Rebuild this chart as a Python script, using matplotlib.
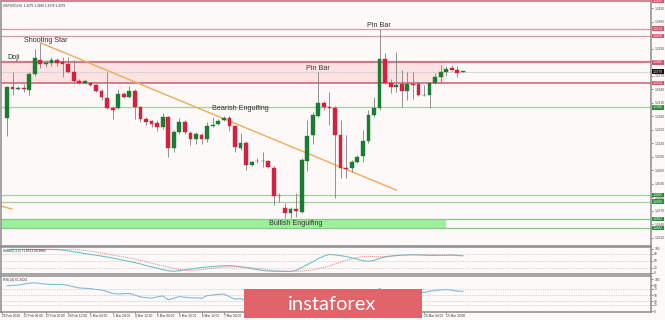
import matplotlib
matplotlib.use("Agg")
import matplotlib.pyplot as plt
from matplotlib.patches import Rectangle
from matplotlib.transforms import blended_transform_factory
import numpy as np

# ---------------- data: GBPUSD H4 ----------------
opens = [1.3176, 1.3245, 1.3240, 1.3242, 1.3238, 1.3274, 1.3305, 1.3296, 1.3298, 1.3305,
         1.3300, 1.3296, 1.3278, 1.3258, 1.3254, 1.3254, 1.3249, 1.3236, 1.3220, 1.3198,
         1.3198, 1.3229, 1.3223, 1.3236, 1.3200, 1.3174, 1.3169, 1.3165, 1.3156, 1.3178,
         1.3109, 1.3145, 1.3167, 1.3143, 1.3129, 1.3138, 1.3129, 1.3158, 1.3163, 1.3172,
         1.3176, 1.3158, 1.3109, 1.3121, 1.3072, 1.3081, 1.3080, 1.3081, 1.3065, 1.3003,
         1.2976, 1.2965, 1.2974, 1.2967, 1.3081, 1.3138, 1.3180, 1.3209, 1.3200, 1.3198,
         1.3138, 1.3065, 1.3065, 1.3078, 1.3092, 1.3125, 1.3183, 1.3198, 1.3307, 1.3254,
         1.3245, 1.3251, 1.3236, 1.3251, 1.3251, 1.3227, 1.3227, 1.3254, 1.3267, 1.3278,
         1.3287, 1.3283, 1.3279]
highs = [1.3247, 1.3278, 1.3247, 1.3251, 1.3278, 1.3329, 1.3343, 1.3305, 1.3311, 1.3309,
         1.3311, 1.3311, 1.3305, 1.3263, 1.3260, 1.3256, 1.3251, 1.3240, 1.3278, 1.3203,
         1.3240, 1.3234, 1.3247, 1.3240, 1.3203, 1.3178, 1.3172, 1.3172, 1.3187, 1.3180,
         1.3149, 1.3176, 1.3172, 1.3147, 1.3145, 1.3143, 1.3167, 1.3178, 1.3174, 1.3180,
         1.3180, 1.3160, 1.3143, 1.3125, 1.3081, 1.3087, 1.3101, 1.3083, 1.3070, 1.3010,
         1.2987, 1.2978, 1.3010, 1.3087, 1.3172, 1.3189, 1.3278, 1.3214, 1.3234, 1.3203,
         1.3172, 1.3138, 1.3083, 1.3094, 1.3149, 1.3194, 1.3223, 1.3374, 1.3320, 1.3263,
         1.3323, 1.3283, 1.3278, 1.3278, 1.3256, 1.3249, 1.3256, 1.3276, 1.3294, 1.3291,
         1.3294, 1.3291, 1.3280]
lows = [1.3136, 1.3227, 1.3238, 1.3234, 1.3227, 1.3269, 1.3287, 1.3289, 1.3291, 1.3291,
        1.3267, 1.3276, 1.3254, 1.3251, 1.3251, 1.3247, 1.3234, 1.3216, 1.3196, 1.3174,
        1.3196, 1.3220, 1.3220, 1.3174, 1.3167, 1.3160, 1.3156, 1.3147, 1.3152, 1.3090,
        1.3101, 1.3141, 1.3141, 1.3116, 1.3118, 1.3118, 1.3123, 1.3156, 1.3160, 1.3169,
        1.3147, 1.3101, 1.3105, 1.3061, 1.3070, 1.3076, 1.3067, 1.3065, 1.2983, 1.2990,
        1.2954, 1.2954, 1.2956, 1.2965, 1.3058, 1.3118, 1.3178, 1.3194, 1.3160, 1.2998,
        1.3043, 1.3043, 1.3056, 1.3076, 1.3078, 1.3121, 1.3178, 1.3194, 1.3251, 1.3232,
        1.3234, 1.3200, 1.3216, 1.3218, 1.3225, 1.3225, 1.3198, 1.3251, 1.3256, 1.3269,
        1.3280, 1.3267, 1.3278]
closes = [1.3245, 1.3240, 1.3243, 1.3240, 1.3274, 1.3309, 1.3296, 1.3298, 1.3305, 1.3298,
          1.3296, 1.3278, 1.3258, 1.3254, 1.3258, 1.3249, 1.3236, 1.3223, 1.3198, 1.3194,
          1.3229, 1.3223, 1.3236, 1.3200, 1.3174, 1.3167, 1.3163, 1.3156, 1.3178, 1.3109,
          1.3145, 1.3167, 1.3145, 1.3129, 1.3141, 1.3129, 1.3158, 1.3160, 1.3169, 1.3176,
          1.3158, 1.3112, 1.3121, 1.3072, 1.3078, 1.3080, 1.3081, 1.3067, 1.3003, 1.3002,
          1.2965, 1.2974, 1.2970, 1.3083, 1.3136, 1.3183, 1.3209, 1.3200, 1.3198, 1.3138,
          1.3065, 1.3063, 1.3078, 1.3090, 1.3125, 1.3183, 1.3198, 1.3307, 1.3254, 1.3245,
          1.3249, 1.3236, 1.3251, 1.3250, 1.3227, 1.3228, 1.3254, 1.3267, 1.3278, 1.3285,
          1.3283, 1.3277, 1.3279]

stoch_main = [98, 98, 98, 98, 98, 98, 97, 98, 98, 97,
              95, 92, 88, 85, 81, 77, 74, 70, 66, 62,
              57, 52, 47, 43, 37, 30, 25, 19, 13, 8,
              6, 8, 12, 15, 19, 22, 24, 26, 28, 29,
              30, 28, 25, 21, 17, 13, 9, 7, 6, 6,
              5, 5, 10, 22, 34, 46, 60, 70, 77, 75,
              72, 68, 63, 57, 51, 48, 52, 60, 66, 70,
              72, 74, 75, 76, 75, 74, 73, 73, 74, 74,
              75, 73, 71.8553]
stoch_signal = [98, 98, 98, 98, 98, 98, 98, 98, 98, 98,
                98, 98, 98, 96, 94, 91, 87, 83, 79, 74,
                70, 66, 62, 58, 52, 46, 40, 34, 29, 24,
                18, 13, 11, 10, 11, 13, 16, 19, 22, 24,
                25, 25, 24, 22, 20, 18, 16, 12, 9, 7,
                7, 6, 6, 7, 9, 12, 17, 22, 28, 37,
                45, 53, 59, 64, 68, 69, 68, 67, 68, 70,
                72, 74, 75, 75, 76, 76, 75, 75, 74, 74,
                74, 72, 69.9880]
rsi = [79, 80, 81, 84, 87, 88, 86, 84, 83, 83,
       83, 80, 76, 72, 71, 70, 67, 66, 61, 55,
       53, 54, 55, 50, 44, 42, 40, 44, 47, 35,
       40, 45, 43, 41, 41, 40, 48, 50, 52, 53,
       45, 37, 39, 32, 33, 34, 34, 32, 24, 24,
       21, 23, 23, 40, 50, 56, 59, 57, 56, 50,
       43, 43, 45, 47, 52, 58, 60, 70, 62, 60,
       61, 58, 60, 60, 57, 58, 62, 64, 66, 67,
       65, 62, 61.4024]

price_ticks = [1.3420, 1.3390, 1.3360, 1.3330, 1.3300, 1.3270, 1.3240, 1.3210, 1.3180,
               1.3150, 1.3120, 1.3090, 1.3060, 1.3030, 1.3000, 1.2970, 1.2940, 1.2910]

resistance_levels = [1.3436, 1.3374, 1.3358]
zone_top, zone_bottom = 1.3300, 1.3254
support_levels = [1.3200, 1.3005, 1.2990]
demand_top, demand_bottom = 1.2952, 1.2932
last_price = 1.3279

trend_start = (6, 1.3343)
trend_end = (70, 1.3016)
old_trend = ((-1.26, 1.2981), (0.9, 1.2974))

date_pos = [-0.9, 3, 7, 11, 15, 19, 23, 27, 31, 35, 39, 43, 47, 51, 55, 59, 63, 67, 71, 75, 79]
date_labels = ["26 Feb 2019", "27 Feb 04:00", "27 Feb 20:00", "28 Feb 12:00", "1 Mar 04:00",
               "1 Mar 20:00", "4 Mar 12:00", "5 Mar 04:00", "5 Mar 20:00", "6 Mar 12:00",
               "7 Mar 04:00", "7 Mar 20:00", "8 Mar 12:00", "11 Mar 04:00", "11 Mar 20:00",
               "12 Mar 12:00", "13 Mar 04:00", "13 Mar 20:00", "14 Mar 12:00", "15 Mar 04:00",
               "15 Mar 20:00"]

patterns = [("Doji", 0.0, 1.3311, "left"),
            ("Shooting Star", 7.0, 1.3347, "center"),
            ("Pin Bar", 66.9, 1.3382, "center"),
            ("Pin Bar", 55.9, 1.3287, "center"),
            ("Bearish Engulfing", 41.9, 1.3198, "center"),
            ("Bullish Engulfing", 52.0, 1.2941, "center")]

# ---------------- styling ----------------
BG = "#fcf9f8"
GREEN = "#1a7d32"
RED = "#d4213f"
WICK = "#808080"
SPINE = "#8c8c8c"
SMALL = 2.3
FONT = "Liberation Sans"

W, H = 665, 320
fig = plt.figure(figsize=(W / 100, H / 100), dpi=100)
fig.patch.set_facecolor(BG)


def panel(x0, y0, x1, y1):
    a = fig.add_axes([x0 / W, 1 - y1 / H, (x1 - x0) / W, (y1 - y0) / H])
    a.set_facecolor(BG)
    for s in a.spines.values():
        s.set_color(SPINE)
        s.set_linewidth(1.1)
    a.yaxis.tick_right()
    a.tick_params(axis="y", labelsize=SMALL, length=1.5, width=0.4, pad=0.8,
                  colors="#444444")
    a.tick_params(axis="x", bottom=False, labelbottom=False)
    for lab in a.get_yticklabels():
        lab.set_family(FONT)
    return a


XL = ((1 - 7) / 5.56, (651 - 7) / 5.56)

ax = panel(1, 0, 651, 246)
ax_st = panel(1, 247, 651, 274)
ax_rsi = panel(1, 276, 651, 312)
for a in (ax, ax_st, ax_rsi):
    a.set_xlim(*XL)
ax.spines["top"].set_visible(False)

ax.set_ylim(1.28919, 1.3438)
ax.set_yticks(price_ticks)
ax.set_yticklabels([f"{t:.4f}" for t in price_ticks], family=FONT)

# zones
ax.add_patch(Rectangle((XL[0], zone_bottom), 78.8 - XL[0], zone_top - zone_bottom,
                       facecolor="#fde2e2", edgecolor="none", zorder=0.5))
ax.add_patch(Rectangle((XL[0], demand_bottom), 79.0 - XL[0], demand_top - demand_bottom,
                       facecolor="#9cf09c", edgecolor="none", zorder=0.5))

# horizontal levels
ax.axhline(resistance_levels[0], color="#c9707f", lw=1.2, zorder=1)
for lv in resistance_levels[1:]:
    ax.axhline(lv, color="#d99aa6", lw=0.9, zorder=1)
ax.axhline(zone_top, color="#cf7a8b", lw=1.6, zorder=1)
ax.axhline(zone_bottom, color="#cc6a7d", lw=1.2, zorder=1)
ax.axhline(last_price, color="#d6d6d6", lw=0.8, zorder=1)
for lv in support_levels:
    ax.axhline(lv, color="#a6cfa0", lw=0.9, zorder=1)
for lv in (demand_top, demand_bottom):
    ax.axhline(lv, color="#86c886", lw=0.9, zorder=1)

# trend lines
ax.plot([trend_start[0], trend_end[0]], [trend_start[1], trend_end[1]],
        color="#f2aa55", lw=1.0, zorder=2)
ax.plot([old_trend[0][0], old_trend[1][0]], [old_trend[0][1], old_trend[1][1]],
        color="#f2aa55", lw=1.0, zorder=2)

# candles
o = np.array(opens)
hi = np.array(highs)
lo = np.array(lows)
c = np.array(closes)
xs = np.arange(len(o))
ax.vlines(xs, lo, hi, color=WICK, lw=0.6, zorder=3)
bottoms = np.minimum(o, c)
heights = np.maximum(np.abs(c - o), 0.00012)
cols = [GREEN if cc >= oo else RED for oo, cc in zip(o, c)]
ax.bar(xs, heights, bottom=bottoms, width=0.68, color=cols, edgecolor=cols,
       linewidth=0.3, zorder=4)

# price tags on the right scale
tag_tr = blended_transform_factory(ax.transAxes, ax.transData)
tags = [(resistance_levels[0], "#d9536a"), (resistance_levels[1], "#d9536a"),
        (resistance_levels[2], "#d9536a"), (zone_top, "#d9536a"),
        (zone_bottom, "#d9536a"), (last_price, "#111111"),
        (support_levels[0], "#2f8a3a"), (support_levels[1], "#2f8a3a"),
        (support_levels[2], "#2f8a3a"), (demand_top, "#2f8a3a"),
        (demand_bottom, "#2f8a3a")]
for val, col in tags:
    ax.add_patch(Rectangle((1.0016, val - 0.00052), 0.0185, 0.00104, transform=tag_tr,
                           facecolor=col, edgecolor="none", clip_on=False, zorder=6))
    ax.text(1.0108, val, f"{val:.4f}", transform=tag_tr, ha="center", va="center",
            fontsize=SMALL, color="white", family=FONT, clip_on=False, zorder=7)

# pattern captions
for txt, xi, yv, ha in patterns:
    ax.text(xi, yv, txt, ha=ha, va="center", fontsize=5.2, color="#333333",
            family=FONT, zorder=5)

ax.text(0.003, 0.985, "GBPUSD,H4  1.3279 1.3280 1.3278 1.3279", transform=ax.transAxes,
        ha="left", va="top", fontsize=SMALL, color="#333333", family=FONT)

# stochastic
ax_st.set_ylim(-5.5, 108.4)
ax_st.set_yticks([0, 20, 50, 80, 100])
ax_st.set_yticklabels(["0", "20", "50", "80", "100"], family=FONT)
for lv in (20, 50, 80):
    ax_st.axhline(lv, color="#b5b5b5", lw=0.5, ls=(0, (1, 1.5)))
ix = np.arange(len(stoch_main))
ax_st.plot(ix, stoch_main, color="#6fc4c4", lw=0.8)
ax_st.plot(ix, stoch_signal, color="#e0808e", lw=0.7, ls=(0, (1, 1)))
ax_st.text(0.003, 0.93, f"Stoch(5,3,3) {stoch_main[-1]:.4f} {stoch_signal[-1]:.4f}",
           transform=ax_st.transAxes, ha="left", va="top", fontsize=SMALL,
           color="#333333", family=FONT)

# RSI
ax_rsi.set_ylim(-3.1, 109.4)
ax_rsi.set_yticks([0, 20, 30, 50, 70, 80, 100])
ax_rsi.set_yticklabels(["0", "20", "30", "50", "70", "80", "100"], family=FONT)
for lv in (20, 30, 50, 70):
    ax_rsi.axhline(lv, color="#b5b5b5", lw=0.5, ls=(0, (1, 1.5)))
ax_rsi.plot(np.arange(len(rsi)), rsi, color="#86b8dc", lw=0.8)
ax_rsi.text(0.003, 0.95, f"RSI(14) {rsi[-1]:.4f}", transform=ax_rsi.transAxes,
            ha="left", va="top", fontsize=SMALL, color="#333333", family=FONT)

# time scale
ax_rsi.set_xticks(date_pos)
ax_rsi.tick_params(axis="x", bottom=True, length=1.5, width=0.4, colors="#555555",
                   labelbottom=False)
date_tr = blended_transform_factory(ax_rsi.transData, ax_rsi.transAxes)
for p, lab in zip(date_pos, date_labels):
    ax_rsi.text(p, -0.06, lab, transform=date_tr, ha="left", va="top", fontsize=SMALL,
                color="#333333", family=FONT, clip_on=False)

# brand plate
fig.add_artist(Rectangle((244 / W, 1 - 318 / H), (422 - 244) / W, (318 - 289) / H,
                         transform=fig.transFigure, facecolor="#e1646a",
                         edgecolor="none", zorder=10))
fig.text(332 / W, 1 - 304 / H, "instaforex", ha="center", va="center", color="white",
         fontsize=14.5, family=["Lato", "DejaVu Sans"], weight="normal", zorder=11)

fig.savefig("out.png", dpi=100, facecolor=BG)
